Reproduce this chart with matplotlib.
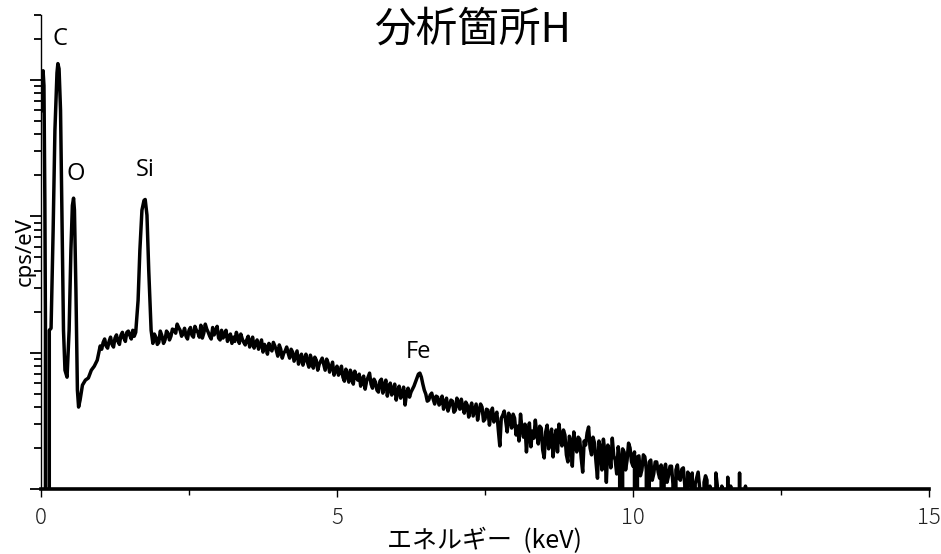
import matplotlib
matplotlib.use("Agg")
import matplotlib.pyplot as plt
from matplotlib.ticker import LogLocator, NullFormatter

# EDS spectrum, analysis point H (energy in keV, intensity in cps/eV)
energy_low = [0.015, 0.035, 0.05, 0.065, 0.075, 0.09, 0.115, 0.14, 0.17, 0.205,
              0.235, 0.27, 0.285, 0.305, 0.33, 0.355, 0.38, 0.405, 0.44, 0.475,
              0.505, 0.53, 0.55, 0.565, 0.59, 0.615, 0.635, 0.66, 0.70, 0.75,
              0.80, 0.85, 0.90, 0.95, 1.00, 1.025, 1.05, 1.075, 1.10, 1.125,
              1.15, 1.175, 1.20, 1.225, 1.25, 1.275, 1.30, 1.325, 1.35, 1.375,
              1.40, 1.425, 1.45, 1.475, 1.50, 1.525, 1.55, 1.575, 1.60, 1.64,
              1.67, 1.705, 1.74, 1.76, 1.79, 1.82, 1.86, 1.89, 1.915, 1.94,
              1.965, 1.99, 2.015, 2.04, 2.07, 2.095, 2.12, 2.145, 2.17, 2.195,
              2.22, 2.25, 2.275, 2.30, 2.325, 2.35, 2.375, 2.40, 2.425, 2.45,
              2.475, 2.50, 2.525, 2.55, 2.575, 2.60, 2.625, 2.65, 2.675]
cps_low = [5.98, 11.7, 9.11, 1.31, 0.165, 0.0, 0.0, 0.146, 0.151, 0.79,
           4.27, 11.3, 13.2, 12.1, 5.98, 0.935, 0.146, 0.0744, 0.0661, 0.146,
           0.563, 1.20, 1.36, 1.11, 0.287, 0.0531, 0.0399, 0.0449, 0.0578, 0.0629,
           0.0652, 0.0744, 0.0796, 0.0881, 0.112, 0.106, 0.119, 0.126, 0.112, 0.108,
           0.121, 0.130, 0.115, 0.110, 0.128, 0.135, 0.121, 0.115, 0.134, 0.141,
           0.128, 0.121, 0.141, 0.144, 0.134, 0.126, 0.146, 0.132, 0.141, 0.242,
           0.563, 1.11, 1.31, 1.33, 1.02, 0.402, 0.146, 0.117, 0.137, 0.130,
           0.115, 0.119, 0.144, 0.134, 0.117, 0.124, 0.144, 0.139, 0.124, 0.132,
           0.149, 0.146, 0.139, 0.162, 0.153, 0.146, 0.132, 0.139, 0.151, 0.132,
           0.126, 0.146, 0.153, 0.134, 0.130, 0.156, 0.146, 0.141, 0.130]

# continuum from 2.70 keV to 12.00 keV in 0.025 keV channels
energy_start = 2.70
energy_step = 0.025
cps_high = [
    # 2.700 - 5.000
    0.159, 0.128, 0.139, 0.162, 0.149, 0.141, 0.132, 0.126, 0.153, 0.135,
    0.144, 0.156, 0.128, 0.124, 0.146, 0.128, 0.135, 0.146, 0.121, 0.132,
    0.137, 0.117, 0.130, 0.121, 0.141, 0.130, 0.117, 0.137, 0.126, 0.119,
    0.114, 0.124, 0.132, 0.110, 0.121, 0.130, 0.108, 0.117, 0.124, 0.106,
    0.115, 0.124, 0.101, 0.115, 0.110, 0.0975, 0.117, 0.108, 0.103, 0.119,
    0.112, 0.104, 0.0943, 0.114, 0.106, 0.0912, 0.0991, 0.103, 0.110, 0.0991,
    0.0912, 0.106, 0.101, 0.0866, 0.0943, 0.103, 0.0824, 0.0912, 0.0975, 0.0810,
    0.0897, 0.0975, 0.0852, 0.0783, 0.0959, 0.0881, 0.0770, 0.0927, 0.0881, 0.0744,
    0.0824, 0.0866, 0.0912, 0.0824, 0.0744, 0.0897, 0.0838, 0.0720, 0.0783, 0.0852,
    0.0684, 0.0744, 0.0796,
    # 5.025 - 6.200
    0.0684, 0.0720, 0.0796, 0.0662, 0.0618, 0.0757, 0.0684, 0.0608, 0.0744, 0.0696,
    0.0588, 0.0732, 0.0662, 0.0629, 0.0696, 0.0568, 0.0639, 0.0673, 0.0540, 0.0618,
    0.0662, 0.0708, 0.0588, 0.0549, 0.0639, 0.0608, 0.0531, 0.0514, 0.0618, 0.0639,
    0.0505, 0.0578, 0.0629, 0.0480, 0.0549, 0.0598, 0.0489, 0.0540, 0.0588, 0.0449,
    0.0522, 0.0568, 0.0464, 0.0497, 0.0559, 0.0413, 0.0505, 0.0549,
    # 6.225 - 8.000 (Fe K line)
    0.0472, 0.0514, 0.0540, 0.0568, 0.0608, 0.0650, 0.0696, 0.0708, 0.0662, 0.0588,
    0.0531, 0.0497, 0.0441, 0.0449, 0.0489, 0.0505, 0.0456, 0.0420, 0.0480, 0.0472,
    0.0413, 0.0434, 0.0480, 0.0385, 0.0427, 0.0464, 0.0373, 0.0406, 0.0449, 0.0441,
    0.0366, 0.0379, 0.0464, 0.0420, 0.0385, 0.0456, 0.0399, 0.0360, 0.0434, 0.0413,
    0.0337, 0.0392, 0.0427, 0.0343, 0.0379, 0.0420, 0.0320, 0.0373, 0.0420, 0.0399,
    0.0315, 0.0325, 0.0385, 0.0379, 0.0294, 0.0354, 0.0392, 0.0310, 0.0343, 0.0366,
    0.0271, 0.0207, 0.0331, 0.0348, 0.0373, 0.0315, 0.0262, 0.0360, 0.0325, 0.0280,
    0.0354, 0.0331,
    # 8.025 - 9.750
    0.0249, 0.0289, 0.0225, 0.0354, 0.0275, 0.0240, 0.0299, 0.0187, 0.0258, 0.0305,
    0.0204, 0.0266, 0.0236, 0.0320, 0.0253, 0.0214, 0.0289, 0.0280, 0.0193, 0.0169,
    0.0262, 0.0294, 0.0197, 0.0244, 0.0275, 0.0172, 0.0229, 0.0271, 0.0187, 0.0299,
    0.0236, 0.0207, 0.0271, 0.0249, 0.0178, 0.0158, 0.0244, 0.0225, 0.0147, 0.0262,
    0.0214, 0.0187, 0.0240, 0.0232, 0.0169, 0.0133, 0.0225, 0.0210, 0.0258, 0.0285,
    0.0200, 0.0178, 0.0240, 0.0217, 0.0158, 0.0120, 0.0225, 0.0200, 0.0138, 0.0232,
    0.0187, 0.0112, 0.0210, 0.0190, 0.0143, 0.0236, 0.0175, 0.0163, 0.0129, 0.0204,
    # 9.775 - 12.000 (zero-count channels included)
    0.0169, 0.0, 0.0197, 0.0187, 0.0138, 0.0163, 0.0217, 0.0200, 0.0158, 0.0147,
    0.0187, 0.0, 0.0172, 0.0175, 0.0125, 0.0138, 0.0178, 0.0172, 0.0138, 0.0,
    0.0158, 0.0163, 0.0116, 0.0129, 0.0158, 0.0158, 0.0133, 0.0120, 0.0150, 0.0,
    0.0138, 0.0152, 0.0112, 0.0125, 0.0147, 0.0147, 0.0109, 0.0, 0.0138, 0.0150,
    0.0120, 0.0116, 0.0140, 0.0143, 0.0107, 0.0, 0.0133, 0.0125, 0.0105, 0.0131,
    0.0, 0.0109, 0.0120, 0.0133, 0.0103, 0.0, 0.0, 0.0112, 0.0125, 0.0116,
    0.0, 0.0105, 0.0, 0.0, 0.0, 0.0131, 0.0105, 0.0, 0.0, 0.0105,
    0.0, 0.0, 0.0, 0.0122, 0.0, 0.0105, 0.0, 0.0, 0.0, 0.0,
    0.0, 0.0131, 0.0, 0.0, 0.0, 0.0105, 0.0, 0.0, 0.0, 0.0,
]
energy_high = [round(energy_start + i * energy_step, 3) for i in range(len(cps_high))]

energy = energy_low + energy_high
cps = cps_low + cps_high

# element line labels: (text, energy keV, cps/eV)
peak_labels = [("C", 0.32, 20.0), ("O", 0.59, 2.03), ("Si", 1.76, 2.17), ("Fe", 6.37, 0.101)]

x_ticks = [0, 5, 10, 15]
x_minor = [2.5, 7.5, 12.5]

fig = plt.figure(figsize=(9.41, 5.54), dpi=100)
ax = fig.add_axes([41 / 941, 65 / 554, 888 / 941, 474 / 554])

ax.plot(energy, cps, color="black", lw=2.5, solid_joinstyle="round")
ax.set_yscale("log", nonpositive="clip")
ax.set_ylim(0.01, 30)
ax.set_xlim(0, 15)

ax.yaxis.set_major_locator(LogLocator(base=10, numticks=10))
ax.yaxis.set_minor_locator(LogLocator(base=10, subs=range(2, 10), numticks=20))
ax.yaxis.set_major_formatter(NullFormatter())
ax.yaxis.set_minor_formatter(NullFormatter())

ax.set_xticks(x_ticks)
ax.set_xticks(x_minor, minor=True)
ax.set_xticklabels([str(t) for t in x_ticks], fontsize=16, color="#222222",
                   family=["Noto Sans CJK JP", "DejaVu Sans"], fontweight="light")

ax.tick_params(axis="y", which="major", direction="out", length=8, width=1.3)
ax.tick_params(axis="y", which="minor", direction="out", length=5, width=1.3)
ax.tick_params(axis="x", which="major", direction="out", length=6, width=1, pad=7)
ax.tick_params(axis="x", which="minor", direction="out", length=4, width=1)

for side in ("top", "right"):
    ax.spines[side].set_visible(False)
ax.spines["left"].set_linewidth(1.0)
ax.spines["bottom"].set_linewidth(2.6)

for text, ex, ey in peak_labels:
    ax.text(ex, ey, text, ha="center", va="center", fontsize=17,
            family=["Open Sans", "DejaVu Sans"])

fig.text(472 / 941, 1 - 30 / 554, "分析箇所H", ha="center", va="center",
         fontsize=30, family=["Noto Sans CJK JP", "DejaVu Sans"])
fig.text(484 / 941, 1 - 541 / 554, "エネルギー  (keV)", ha="center", va="center",
         fontsize=18, family=["Noto Sans CJK JP", "DejaVu Sans"])
fig.text(25 / 941, 1 - 252 / 554, "cps/eV", ha="center", va="center", rotation=90,
         fontsize=16, family=["Noto Sans", "DejaVu Sans"])

fig.savefig("out.png", dpi=100, facecolor="white")
